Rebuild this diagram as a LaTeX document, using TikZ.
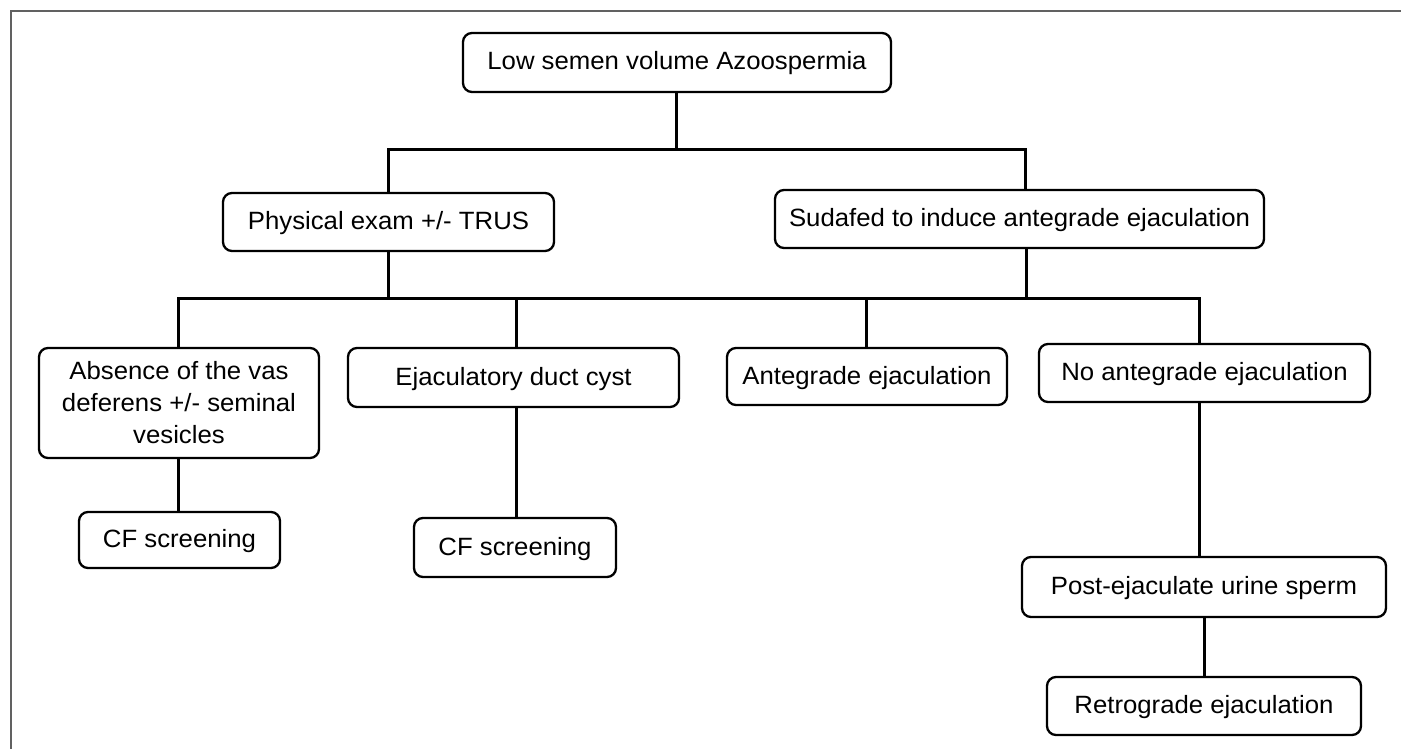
\documentclass[tikz,border=0pt]{standalone}
\usepackage{fontspec}
\setmainfont{Liberation Sans}[FakeStretch=1.03]
\begin{document}
\begin{tikzpicture}[x=1pt,y=-1pt,
  box/.style={draw=black, line width=2.3pt, rounded corners=9pt, fill=white,
    inner sep=0pt, align=center, font=\fontsize{25}{32}\selectfont},
  onerow/.style={text height=18pt, text depth=3pt},
  conn/.style={draw=black, line width=3pt},
  frame/.style={draw=black!62, line width=2.4pt}]
\useasboundingbox (0,0) rectangle (1401,749);
\draw[frame] (11,749) -- (11,11) -- (1401,11);

\node[box, onerow, minimum width=428pt, minimum height=59pt] (top) at (677,62.5) {Low semen volume Azoospermia};
\node[box, onerow, minimum width=331pt, minimum height=58pt] (phys) at (388.5,222) {Physical exam +/- TRUS};
\node[box, onerow, minimum width=489pt, minimum height=58pt] (suda) at (1019.5,219) {Sudafed to induce antegrade ejaculation};
\node[box, minimum width=280pt, minimum height=110pt] (abs) at (179,403) {Absence of the vas\\deferens +/- seminal\\vesicles};
\node[box, onerow, minimum width=331pt, minimum height=59pt] (ejc) at (513.5,377.5) {Ejaculatory duct cyst};
\node[box, onerow, minimum width=280pt, minimum height=57pt] (ante) at (867,376.5) {Antegrade ejaculation};
\node[box, onerow, minimum width=331pt, minimum height=58pt] (noante) at (1204.5,373) {No antegrade ejaculation};
\node[box, onerow, minimum width=201pt, minimum height=56pt] (cfa) at (179.5,540) {CF screening};
\node[box, onerow, minimum width=202pt, minimum height=59pt] (cfb) at (515,547.5) {CF screening};
\node[box, onerow, minimum width=364pt, minimum height=60pt] (post) at (1204,587) {Post-ejaculate urine sperm};
\node[box, onerow, minimum width=314pt, minimum height=58pt] (retro) at (1204,706) {Retrograde ejaculation};

\coordinate (ba) at (676,150);
\coordinate (bl) at (388,150);
\coordinate (br) at (1025,150);
\coordinate (ca) at (388,298);
\coordinate (cb) at (1026,298);
\coordinate (c1) at (178,298);
\coordinate (c2) at (516,298);
\coordinate (c3) at (866,298);
\coordinate (c4) at (1199,298);

\draw[conn] (top.south -| ba) -- (ba);
\draw[conn] (phys.north -| bl) -- (bl) -- (br) -- (suda.north -| br);
\draw[conn] (phys.south -| ca) -- (ca);
\draw[conn] (suda.south -| cb) -- (cb);
\draw[conn] (abs.north -| c1) -- (c1) -- (c4) -- (noante.north -| c4);
\draw[conn] (c2) -- (ejc.north -| c2);
\draw[conn] (c3) -- (ante.north -| c3);
\draw[conn] (abs.south -| c1) -- (cfa.north -| c1);
\draw[conn] (ejc.south -| c2) -- (cfb.north -| c2);
\draw[conn] (noante.south -| c4) -- (post.north -| c4);
\draw[conn] (post.south) -- (retro.north);
\end{tikzpicture}
\end{document}
